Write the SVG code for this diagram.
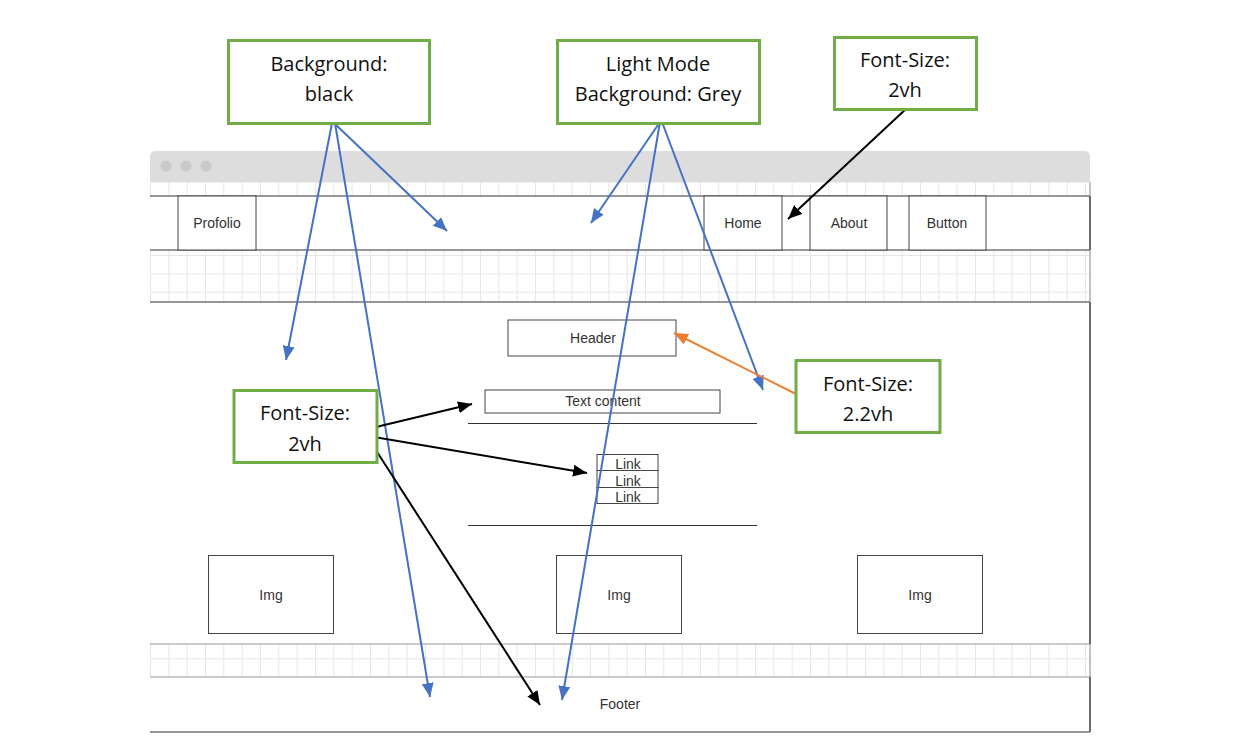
<svg xmlns="http://www.w3.org/2000/svg" width="1240" height="750" viewBox="0 0 1240 750">
<style>
.mk{font-family:"Liberation Sans",Arial,sans-serif;font-size:14px;fill:#333;text-anchor:middle}
.an{font-family:"Open Sans","Noto Sans",sans-serif;font-size:20px;fill:#111;text-anchor:middle}
.box{fill:#fff;stroke:#444;stroke-width:1}
.note{fill:#fff;stroke:#70ad47;stroke-width:3}
.dk{stroke:#333;stroke-width:1.2;fill:none}
.lt{stroke:#999;stroke-width:1.2;fill:none}
.blue{stroke:#4472c4;stroke-width:2;fill:none;marker-end:url(#ab)}
.blk{stroke:#000;stroke-width:2;fill:none;marker-end:url(#ak)}
.org{stroke:#ed7d31;stroke-width:2;fill:none;marker-end:url(#ao)}
</style>
<defs>
<pattern id="grid" patternUnits="userSpaceOnUse" x="150" y="255" width="18.333" height="18.333">
<path d="M0 0.5H18.333M0.5 0V18.333" stroke="#e6e6e6" stroke-width="1" fill="none"/>
</pattern>
<marker id="ab" markerUnits="userSpaceOnUse" markerWidth="14" markerHeight="12" refX="14" refY="6" orient="auto"><path d="M0,0 L14,6 L0,12 z" fill="#4472c4"/></marker>
<marker id="ak" markerUnits="userSpaceOnUse" markerWidth="14" markerHeight="12" refX="14" refY="6" orient="auto"><path d="M0,0 L14,6 L0,12 z" fill="#000"/></marker>
<marker id="ao" markerUnits="userSpaceOnUse" markerWidth="14" markerHeight="12" refX="14" refY="6" orient="auto"><path d="M0,0 L14,6 L0,12 z" fill="#ed7d31"/></marker>
</defs>
<rect width="1240" height="750" fill="#fff"/>
<g id="browser">
<path d="M150 182V156a5 5 0 0 1 5-5H1085a5 5 0 0 1 5 5V182z" fill="#dddddd"/>
<circle cx="166" cy="166" r="5.5" fill="#c9c9c9"/>
<circle cx="186" cy="166" r="5.5" fill="#c9c9c9"/>
<circle cx="206" cy="166" r="5.5" fill="#c9c9c9"/>
<rect x="150" y="182" width="940" height="14" fill="url(#grid)"/>
<rect x="150" y="250" width="940" height="52" fill="url(#grid)"/>
<rect x="150" y="644" width="940" height="33" fill="url(#grid)"/>
<line class="dk" x1="150" y1="196" x2="1090" y2="196"/>
<line class="dk" x1="150" y1="250" x2="1090" y2="250"/>
<line class="dk" x1="150" y1="302" x2="1090" y2="302"/>
<line class="lt" x1="150" y1="644" x2="1090" y2="644"/>
<line class="lt" x1="150" y1="677" x2="1090" y2="677"/>
<line class="dk" x1="150" y1="732" x2="1090" y2="732"/>
<line class="lt" x1="1090" y1="182" x2="1090" y2="732"/>
<line class="dk" x1="1090" y1="196" x2="1090" y2="250"/>
<line class="dk" x1="1090" y1="302" x2="1090" y2="644"/>
<line class="dk" x1="1090" y1="677" x2="1090" y2="732"/>
</g>
<g id="nav-profolio"><rect class="box" x="178" y="196" width="78" height="54"/><text class="mk" x="217" y="228">Profolio</text></g>
<g id="nav-home"><rect class="box" x="704" y="196" width="78" height="54"/><text class="mk" x="743" y="228">Home</text></g>
<g id="nav-about"><rect class="box" x="810" y="196" width="77" height="54"/><text class="mk" x="849" y="228">About</text></g>
<g id="nav-button"><rect class="box" x="909" y="196" width="77" height="54"/><text class="mk" x="947" y="228">Button</text></g>
<g id="header"><rect class="box" x="508" y="320" width="168" height="36" stroke="#666"/><text class="mk" x="593" y="343">Header</text></g>
<g id="text-content"><rect class="box" x="485" y="390" width="235" height="23" stroke="#666"/><text class="mk" x="603" y="406">Text content</text></g>
<g id="dividers"><line class="dk" x1="468" y1="423.5" x2="757" y2="423.5"/><line class="dk" x1="468" y1="525.5" x2="757" y2="525.5"/></g>
<g id="links">
<rect class="box" x="597" y="454.5" width="61" height="16"/>
<rect class="box" x="597" y="470.5" width="61" height="17"/>
<rect class="box" x="597" y="487.5" width="61" height="16"/>
<text class="mk" x="628" y="469">Link</text>
<text class="mk" x="628" y="486">Link</text>
<text class="mk" x="628" y="502">Link</text>
</g>
<g id="img1"><rect class="box" x="208.5" y="555.5" width="125" height="78"/><text class="mk" x="271" y="600">Img</text></g>
<g id="img2"><rect class="box" x="556.5" y="555.5" width="125" height="78"/><text class="mk" x="619" y="600">Img</text></g>
<g id="img3"><rect class="box" x="857.5" y="555.5" width="125" height="78"/><text class="mk" x="920" y="600">Img</text></g>
<g id="footer"><text class="mk" x="620" y="709">Footer</text></g>
<g id="connectors">
<line class="blue" x1="332" y1="123" x2="286" y2="360"/>
<line class="blue" x1="334" y1="123" x2="447" y2="231"/>
<line class="blue" x1="335" y1="123" x2="430" y2="697"/>
<line class="blue" x1="660" y1="122" x2="591" y2="223"/>
<line class="blue" x1="662" y1="122" x2="763" y2="390"/>
<line class="blue" x1="660" y1="122" x2="562" y2="700"/>
<line class="blk" x1="907" y1="108" x2="788" y2="219"/>
<line class="blk" x1="376" y1="427" x2="472" y2="404"/>
<line class="blk" x1="374" y1="437" x2="587" y2="473"/>
<line class="blk" x1="370" y1="441" x2="540" y2="705"/>
<line class="org" x1="796" y1="394" x2="674" y2="333"/>
</g>
<g id="note-bg-black"><rect class="note" x="228.5" y="40.5" width="201" height="83"/><text class="an" x="329" y="71">Background:</text><text class="an" x="329" y="101">black</text></g>
<g id="note-light-mode"><rect class="note" x="557.5" y="40.5" width="202" height="83"/><text class="an" x="658" y="71">Light Mode</text><text class="an" x="658" y="101">Background: Grey</text></g>
<g id="note-font-nav"><rect class="note" x="834.5" y="37.5" width="142" height="72"/><text class="an" x="905" y="67">Font-Size:</text><text class="an" x="905" y="97">2vh</text></g>
<g id="note-font-content"><rect class="note" x="234" y="390.5" width="143" height="72"/><text class="an" x="305" y="420">Font-Size:</text><text class="an" x="305" y="451">2vh</text></g>
<g id="note-font-header"><rect class="note" x="796" y="360.5" width="144" height="72"/><text class="an" x="868" y="391">Font-Size:</text><text class="an" x="868" y="421">2.2vh</text></g>
</svg>
